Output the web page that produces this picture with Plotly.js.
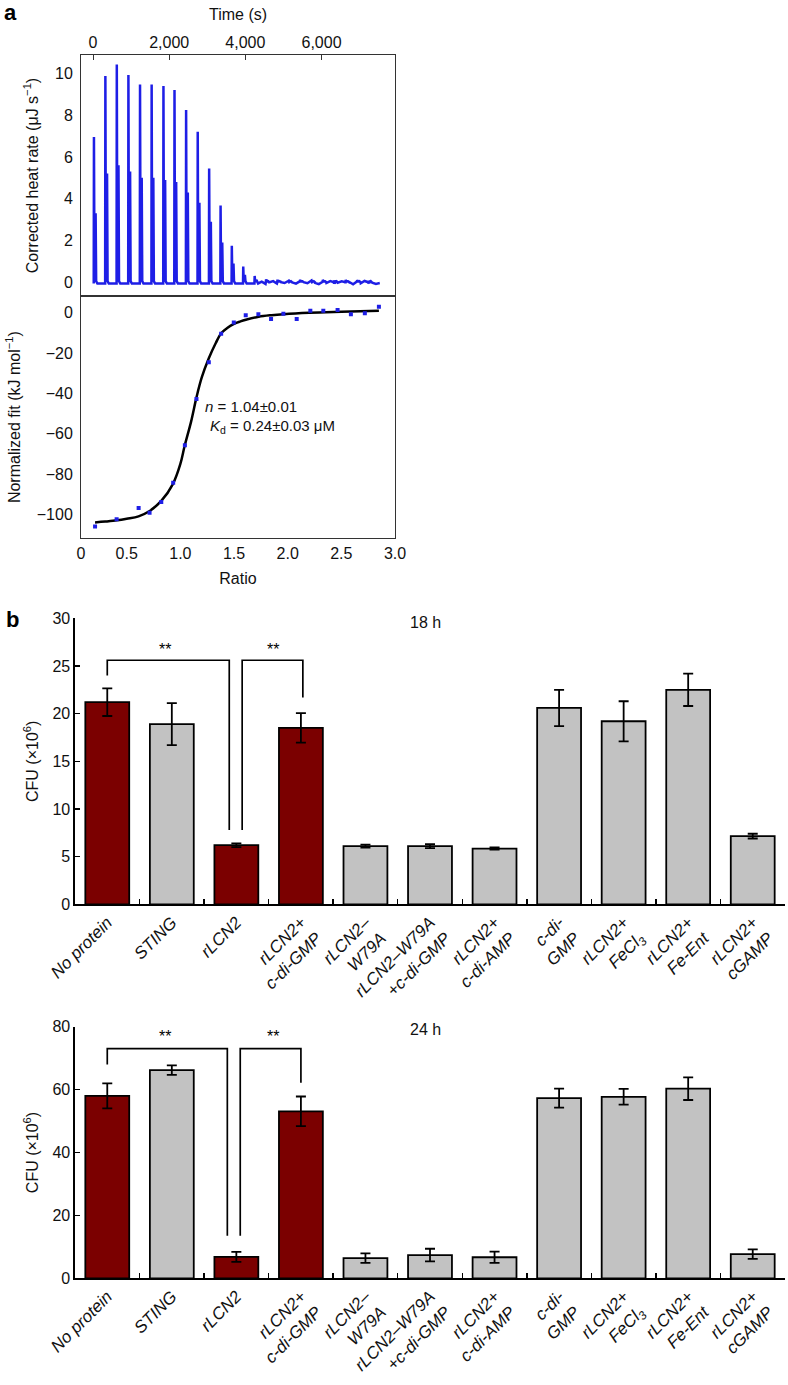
<!DOCTYPE html>
<html>
<head>
<meta charset="utf-8">
<script src="https://cdn.plot.ly/plotly-3.0.1.min.js"></script>
<style>
  html, body { margin: 0; padding: 0; background: #fff; }
  #chart { width: 788px; height: 1385px; }
</style>
</head>
<body>
<div id="chart"></div>
<script>
// ---------------- Panel a: ITC raw heat rate ----------------
const injTime   = [25, 325, 625, 930, 1235, 1540, 1850, 2140, 2445, 2750, 3050, 3350, 3645, 3945, 4245, 4545, 4845, 5140, 5440, 5740, 6035, 6335, 6635, 6935, 7235];
const peakHeat  = [6.95, 9.87, 10.43, 9.92, 9.47, 9.47, 9.39, 9.20, 8.25, 7.21, 5.45, 3.67, 1.74, 0.75, 0.30, 0.14, 0.12, 0.10, 0.12, 0.10, 0.11, 0.09, 0.12, 0.10, 0.08];
const shoulderHeat = [3.3, 5.2, 5.6, 5.3, 5.0, 5.0, 4.9, 4.8, 4.3, 3.8, 2.9, 1.9, 0.9, 0.35, 0.12, 0.06, 0.05, 0.04, 0.05, 0.04, 0.05, 0.04, 0.05, 0.04, 0.03];
const bumpHeat  = [0.73, 1.45, 0.90, 0.73, 0.70, 0.70, 0.70, 0.85, 0.80, 0.60, 0.45, 0.30, 0.20, 0.10, 0.05, 0.03, 0.03, 0.02, 0.03, 0.02, 0.03, 0.02, 0.03, 0.02, 0.02];
const earlyBaseline = -0.06;
const noiseTime = [4330, 4430, 4530, 4630, 4730, 4830, 4930, 5030, 5130, 5230, 5330, 5430, 5530, 5630, 5730, 5830, 5930, 6030, 6130, 6230, 6330, 6430, 6530, 6630, 6730, 6830, 6930, 7030, 7130, 7230, 7330, 7430, 7530];
const noiseHeat = [-0.02, 0.03, -0.08, -0.03, 0.05, -0.06, 0.02, -0.04, 0.06, -0.01, -0.07, 0.04, 0.00, -0.05, 0.07, -0.03, -0.09, 0.02, -0.04, 0.05, -0.08, -0.02, 0.04, -0.06, 0.01, -0.10, 0.03, -0.05, 0.06, -0.07, -0.02, -0.08, -0.04];
const spikeOffsets = [-6, 0, 14, 24, 34, 44, 58, 90]; // s, shape of each injection trace

// ---------------- Panel a: ITC integrated fit ----------------
const ratioPts = [0.205, 0.406, 0.611, 0.713, 0.822, 0.933, 1.042, 1.150, 1.265, 1.380, 1.498, 1.609, 1.727, 1.845, 1.960, 2.084, 2.211, 2.332, 2.465, 2.589, 2.719, 2.850];
const fitPts   = [-106.1, -102.5, -96.9, -99.2, -93.9, -84.3, -65.8, -42.8, -24.6, -10.4, -4.8, -1.3, -0.7, -3.1, -0.5, -3.1, 1.0, 1.0, 1.3, -0.8, -0.2, 3.0];
const fitCurveRatio = [0.205, 0.30, 0.41, 0.50, 0.61, 0.71, 0.82, 0.93, 1.00, 1.04, 1.10, 1.15, 1.20, 1.265, 1.33, 1.38, 1.44, 1.50, 1.56, 1.61, 1.73, 1.85, 1.96, 2.20, 2.50, 2.85];
const fitCurveHeat  = [-104, -103.6, -103, -102.2, -101, -98.5, -93.5, -85, -75, -66, -54, -42, -32, -22.6, -15, -10.2, -7.4, -5.5, -4.3, -3.5, -2.0, -1.2, -0.7, 0.0, 0.5, 1.0];

const timeTickVals = [0, 2000, 4000, 6000];
const timeTickText = ['0', '2,000', '4,000', '6,000'];
const heatTickVals = [0, 2, 4, 6, 8, 10];
const ratioTickVals = [0.074, 0.5, 1.0, 1.5, 2.0, 2.5, 3.0];
const ratioTickText = ['0', '0.5', '1.0', '1.5', '2.0', '2.5', '3.0'];
const fitTickVals = [-100, -80, -60, -40, -20, 0];
const fitTickText = ['\u2212100', '\u221280', '\u221260', '\u221240', '\u221220', '0'];

// ---------------- Panel b: CFU bars ----------------
const categories = ['No protein', 'STING', 'rLCN2', 'rLCN2+<br>c-di-GMP', 'rLCN2\u2013<br>W79A', 'rLCN2\u2013W79A<br>+c-di-GMP', 'rLCN2+<br>c-di-AMP', 'c-di-<br>GMP', 'rLCN2+<br>FeCl<sub>3</sub>', 'rLCN2+<br>Fe-Ent', 'rLCN2+<br>cGAMP'];
const highlighted = [1, 0, 1, 1, 0, 0, 0, 0, 0, 0, 0];
const cfu18 = [21.2, 18.9, 6.2, 18.5, 6.1, 6.1, 5.85, 20.6, 19.2, 22.5, 7.15];
const err18 = [1.45, 2.2, 0.2, 1.55, 0.15, 0.2, 0.12, 1.9, 2.1, 1.7, 0.25];
const cfu24 = [58.0, 66.2, 6.8, 53.1, 6.4, 7.4, 6.7, 57.3, 57.7, 60.3, 7.7];
const err24 = [4.0, 1.5, 1.6, 4.7, 1.5, 2.0, 1.8, 3.0, 2.5, 3.6, 1.5];

// significance brackets: [leftPos, rightPos, top, leftLow, rightLow]
const sig18 = [[0, 1.89, 25.6, 24.0, 7.8], [2.09, 3.03, 25.6, 7.8, 21.7]];
const sig24 = [[0, 1.86, 73.0, 68.0, 13.5], [2.06, 3.0, 73.0, 13.5, 62.2]];
const star18 = [[0.9, 26.75], [2.56, 26.75]];
const star24 = [[0.9, 76.9], [2.56, 76.9]];

// ------------------------------------------------------------
const W = 788, H = 1385;
const fx = p => p / W;
const fy = p => 1 - p / H;
const FONT = 'Liberation Sans, Arial, Helvetica, sans-serif';
const RED = '#7b0000', GREY = '#c2c2c2', BLUE = '#1e1ee6';

// build raw ITC trace
let raw = [];
injTime.forEach((t, i) => {
  const base = t < 4300 ? earlyBaseline : 0;
  const vals = [base, peakHeat[i], 0.2 * bumpHeat[i], bumpHeat[i], 0.15 * bumpHeat[i], shoulderHeat[i], 0.05, base];
  spikeOffsets.forEach((o, k) => raw.push([t + o, vals[k]]));
});
noiseTime.forEach((t, i) => raw.push([t, noiseHeat[i]]));
raw.sort((a, b) => a[0] - b[0]);

function bracketTrace(sig, xa, ya) {
  const xs = [], ys = [];
  sig.forEach(s => {
    xs.push(s[0], s[0], s[1], s[1], null);
    ys.push(s[3], s[2], s[2], s[4], null);
  });
  return { x: xs, y: ys, xaxis: xa, yaxis: ya, mode: 'lines', line: { color: '#000', width: 1.7 }, hoverinfo: 'skip', showlegend: false };
}

const barColors = highlighted.map(h => h ? RED : GREY);
function barTrace(vals, errs, xa, ya) {
  return {
    type: 'bar', x: categories, y: vals, xaxis: xa, yaxis: ya,
    marker: { color: barColors, line: { color: '#000', width: 1.8 } },
    error_y: { type: 'data', array: errs, visible: true, color: '#000', thickness: 1.8, width: 5 },
    showlegend: false
  };
}

const data = [
  { x: raw.map(p => p[0]), y: raw.map(p => p[1]), xaxis: 'x', yaxis: 'y', mode: 'lines', line: { color: BLUE, width: 2.5 }, showlegend: false },
  { x: fitCurveRatio, y: fitCurveHeat, xaxis: 'x2', yaxis: 'y2', mode: 'lines', line: { color: '#000', width: 2.5, shape: 'spline' }, showlegend: false },
  { x: ratioPts, y: fitPts, xaxis: 'x2', yaxis: 'y2', mode: 'markers', marker: { symbol: 'square', size: 4, color: BLUE }, showlegend: false },
  barTrace(cfu18, err18, 'x3', 'y3'),
  barTrace(cfu24, err24, 'x4', 'y4'),
  bracketTrace(sig18, 'x5', 'y3'),
  bracketTrace(sig24, 'x6', 'y4')
];

const TF = { size: 16, color: '#111' };
const boxAxis = { showline: true, mirror: true, linecolor: '#333', linewidth: 1, showgrid: false, zeroline: false, tickfont: { size: 16, color: '#111' } };
const barY = { showline: true, linecolor: '#000', linewidth: 1.6, ticks: 'inside', ticklen: 5, tickwidth: 1.5, tickcolor: '#000', showgrid: false, zeroline: false, tickfont: { size: 16, color: '#111' } };
const barX = { type: 'category', tickson: 'boundaries', ticks: 'inside', ticklen: 5, tickwidth: 1.5, tickcolor: '#000', showline: true, linecolor: '#000', linewidth: 1.6, tickangle: -45, showgrid: false, tickfont: { size: 17, style: 'italic', color: '#111' } };

const ann = [];
function txt(text, x, y, opts) { ann.push(Object.assign({ text, x: fx(x), y: fy(y), xref: 'paper', yref: 'paper', xanchor: 'center', yanchor: 'middle', showarrow: false, font: { size: 16, color: '#111' } }, opts || {})); }
txt('<b>a</b>', 10, 12, { font: { size: 22, color: '#000' } });
txt('<i>n</i> = 1.04\u00b10.01', 203, 407, { xanchor: 'left', font: { size: 15, color: '#111' } });
txt('<i>K</i><sub>d</sub> = 0.24\u00b10.03 \u03bcM', 208, 427, { xanchor: 'left', font: { size: 15, color: '#111' } });
txt('<b>b</b>', 12, 620, { font: { size: 22, color: '#000' } });
txt('18 h', 425, 623);
txt('24 h', 425, 1029);
star18.forEach(s => ann.push({ text: '**', x: s[0], y: s[1], xref: 'x5', yref: 'y3', showarrow: false, font: { size: 16, color: '#000' } }));
star24.forEach(s => ann.push({ text: '**', x: s[0], y: s[1], xref: 'x6', yref: 'y4', showarrow: false, font: { size: 16, color: '#000' } }));

const layout = {
  width: W, height: H,
  margin: { l: 0, r: 0, t: 0, b: 0 },
  paper_bgcolor: '#fff', plot_bgcolor: 'rgba(0,0,0,0)',
  font: { family: FONT, color: '#111' },
  showlegend: false,
  bargap: 0.32,
  xaxis: Object.assign({}, boxAxis, { domain: [fx(81), fx(395)], anchor: 'y', side: 'top', range: [-315, 7930], tickvals: timeTickVals, ticktext: timeTickText, ticks: 'inside', ticklen: 5, tickcolor: '#333',
    title: { text: 'Time (s)', font: TF, standoff: 8 } }),
  yaxis: Object.assign({}, boxAxis, { domain: [fy(296), fy(55)], anchor: 'x', range: [-0.66, 10.88], tickvals: heatTickVals, ticks: '', ticklabelstandoff: 4,
    title: { text: 'Corrected heat rate (\u03bcJ s<sup>\u22121</sup>)', font: TF, standoff: 12 } }),
  xaxis2: Object.assign({}, boxAxis, { domain: [fx(81), fx(395)], anchor: 'y2', range: [0.074, 3.0], tickvals: ratioTickVals, ticktext: ratioTickText, ticks: '',
    title: { text: 'Ratio', font: TF, standoff: 12 } }),
  yaxis2: Object.assign({}, boxAxis, { domain: [fy(538.3), fy(296)], anchor: 'x2', range: [-111.9, 8.3], tickvals: fitTickVals, ticktext: fitTickText, ticks: '', ticklabelstandoff: 4,
    title: { text: 'Normalized fit (kJ mol<sup>\u22121</sup>)', font: TF, standoff: 12 } }),
  xaxis3: Object.assign({}, barX, { domain: [fx(75), fx(785)], anchor: 'y3' }),
  yaxis3: Object.assign({}, barY, { domain: [fy(904.3), fy(618.3)], anchor: 'x3', range: [0, 30], dtick: 5,
    title: { text: 'CFU (\u00d710<sup>6</sup>)', font: TF, standoff: 10 } }),
  xaxis4: Object.assign({}, barX, { domain: [fx(75), fx(785)], anchor: 'y4' }),
  yaxis4: Object.assign({}, barY, { domain: [fy(1278.3), fy(1026.7)], anchor: 'x4', range: [0, 80], dtick: 20,
    title: { text: 'CFU (\u00d710<sup>6</sup>)', font: TF, standoff: 10 } }),
  xaxis5: { overlaying: 'x3', anchor: 'y3', range: [-0.5, 10.5], visible: false },
  xaxis6: { overlaying: 'x4', anchor: 'y4', range: [-0.5, 10.5], visible: false },
  annotations: ann
};

Plotly.newPlot('chart', data, layout, { staticPlot: true, displayModeBar: false });
</script>
</body>
</html>
